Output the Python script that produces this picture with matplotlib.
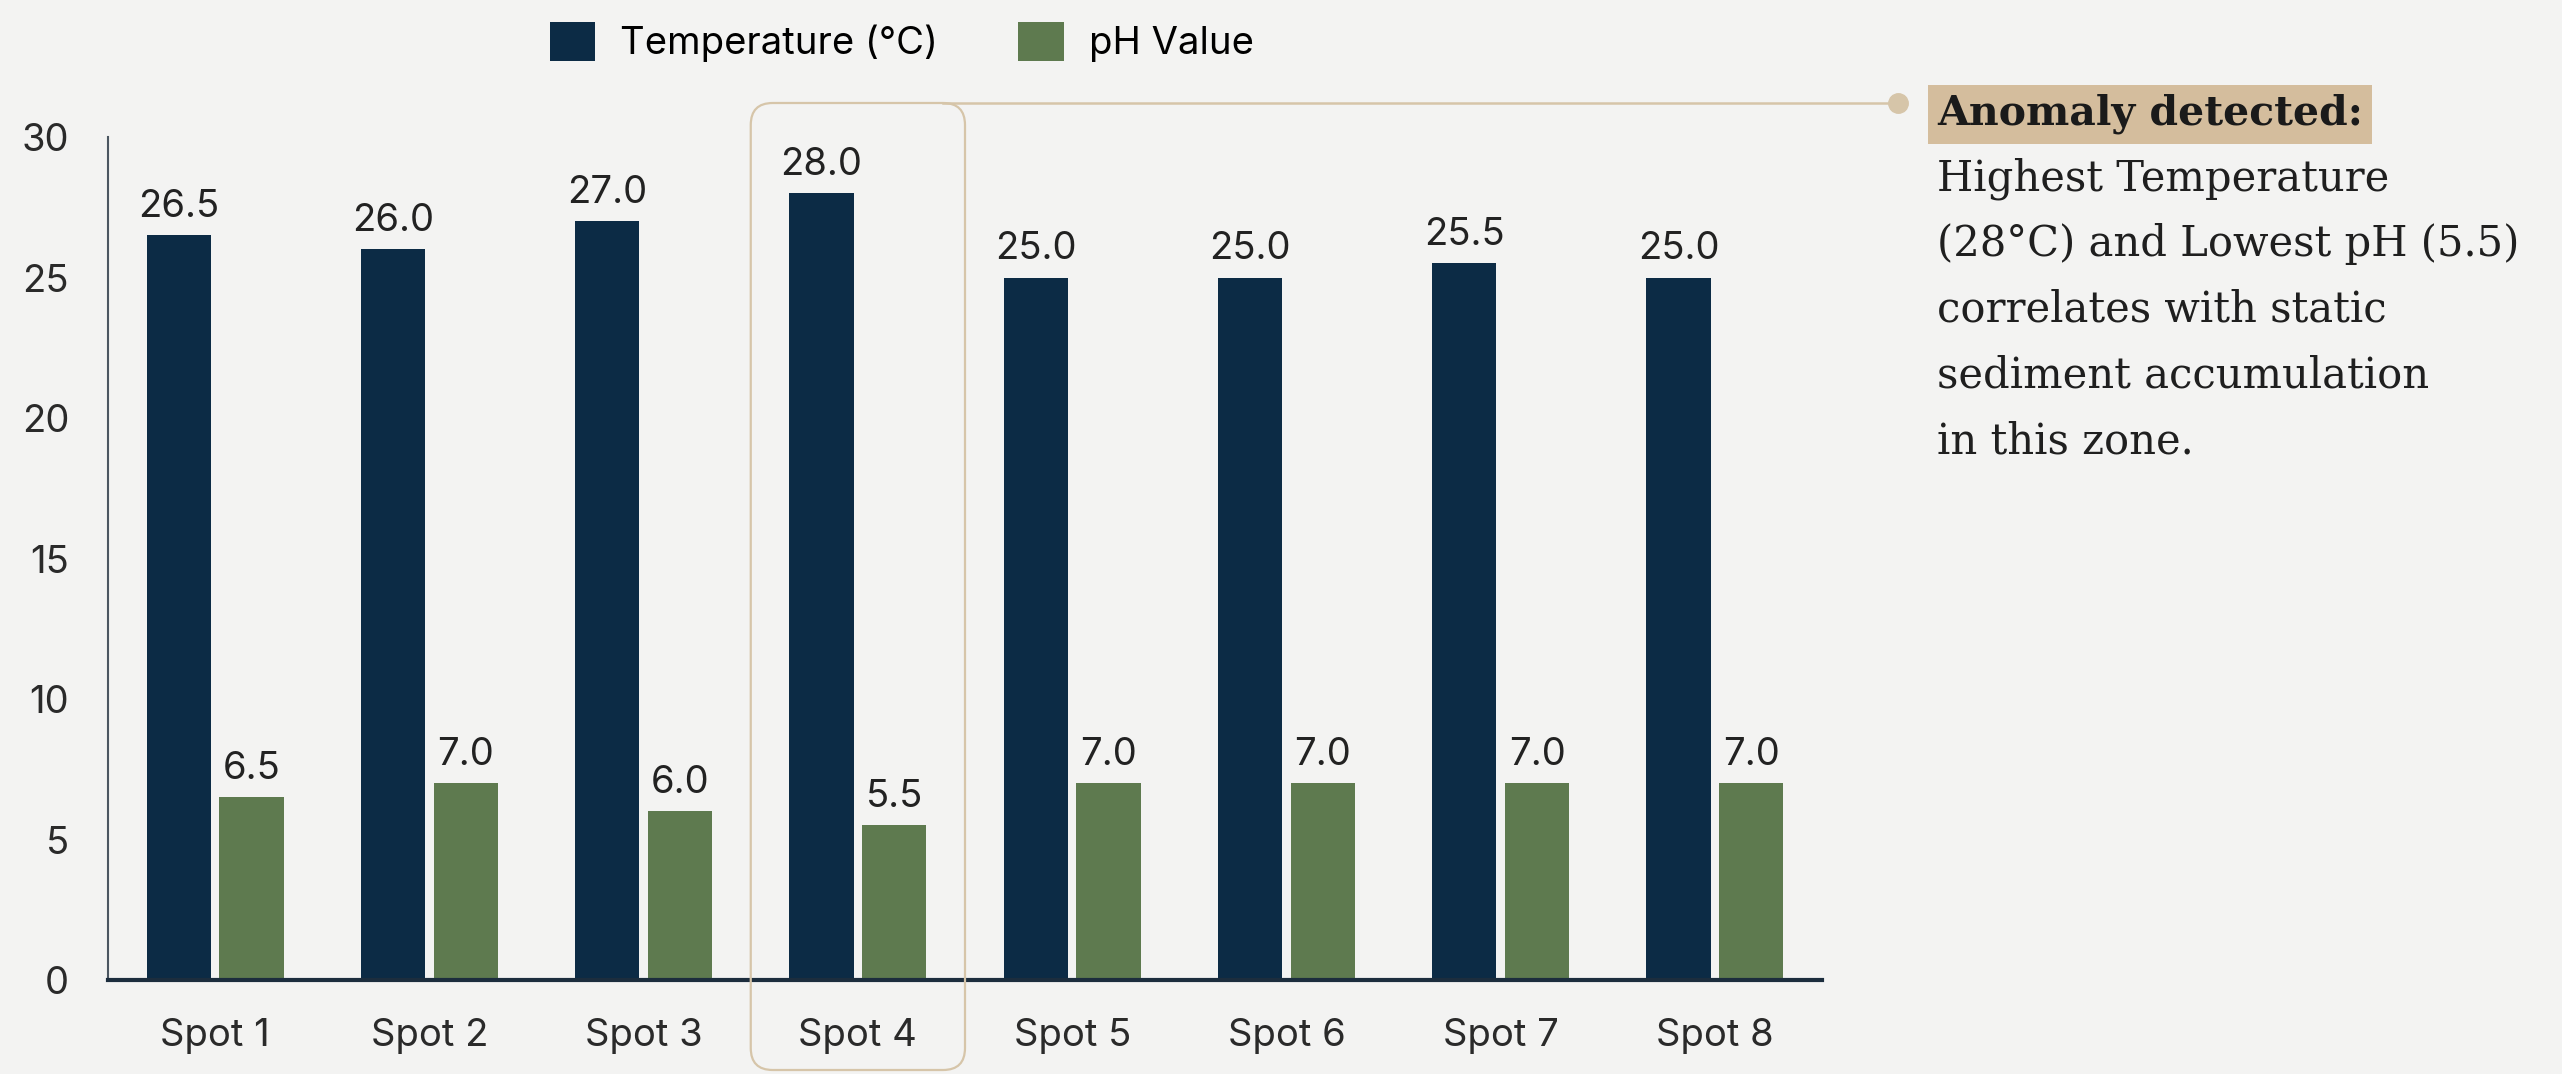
import matplotlib.pyplot as plt
import numpy as np
from matplotlib.patches import FancyBboxPatch
from matplotlib.lines import Line2D
from matplotlib.transforms import IdentityTransform

# data
spots = ['Spot 1', 'Spot 2', 'Spot 3', 'Spot 4', 'Spot 5', 'Spot 6', 'Spot 7', 'Spot 8']
temperature = [26.5, 26.0, 27.0, 28.0, 25.0, 25.0, 25.5, 25.0]
ph_value = [6.5, 7.0, 6.0, 5.5, 7.0, 7.0, 7.0, 7.0]
y_ticks = [0, 5, 10, 15, 20, 25, 30]
series_names = ['Temperature (°C)', 'pH Value']
note_title = 'Anomaly detected:'
note_lines = ['Highest Temperature', '(28°C) and Lowest pH (5.5)',
              'correlates with static', 'sediment accumulation', 'in this zone.']

BG = '#f3f3f2'
NAVY = '#0c2b45'
GREEN = '#5e7a4f'
TAN = '#d6c5a9'
TAN_FILL = '#d4bd9d'
TEXT = '#222222'

plt.rcParams['font.family'] = ['Inter', 'DejaVu Sans']

W, H = 2562, 1074
fig = plt.figure(figsize=(W / 100, H / 100), dpi=100, facecolor=BG)
ax = fig.add_axes([108 / W, 94 / H, (1822 - 108) / W, (937 - 94) / H])
ax.set_facecolor(BG)

x = np.arange(len(spots))
bw, off = 0.30, 0.17
ax.bar(x - off, temperature, bw, color=NAVY, label=series_names[0], zorder=2)
ax.bar(x + off, ph_value, bw, color=GREEN, label=series_names[1], zorder=2)

# value labels above bars
for xi, t, p in zip(x, temperature, ph_value):
    ax.annotate(f'{t:.1f}', (xi - off, t), xytext=(0, 13), textcoords='offset points',
                ha='center', va='baseline', fontsize=27.5, color=TEXT)
    ax.annotate(f'{p:.1f}', (xi + off, p), xytext=(0, 13), textcoords='offset points',
                ha='center', va='baseline', fontsize=27.5, color=TEXT)

ax.set_xlim(-0.5, len(spots) - 0.5)
ax.set_ylim(0, 30)
ax.set_yticks(y_ticks)
ax.set_xticks(x)
ax.set_xticklabels(spots)
ax.tick_params(axis='both', length=0, labelsize=27.5, labelcolor='#2a2a2a')
ax.tick_params(axis='y', pad=28)
ax.tick_params(axis='x', pad=27)
for s in ['top', 'right']:
    ax.spines[s].set_visible(False)
ax.spines['left'].set_color('#4b5661')
ax.spines['left'].set_linewidth(1.5)
ax.spines['bottom'].set_color('#1c2d3d')
ax.spines['bottom'].set_linewidth(3)

fig.legend(loc='center', bbox_to_anchor=(0.352, 0.961), ncol=2, frameon=False,
           fontsize=27.5, handlelength=1.2, handleheight=1.2, handletextpad=0.65,
           columnspacing=2.1, borderpad=0)

# highlight box around the anomaly spot
hi = int(np.argmax(temperature))
bx0 = ax.transData.transform((hi - 0.5, 0))[0]
bx1 = ax.transData.transform((hi + 0.5, 0))[0]
top_px, bot_px = H - 103, H - 1070
box = FancyBboxPatch((bx0, bot_px), bx1 - bx0, top_px - bot_px,
                     boxstyle='round,pad=0,rounding_size=22', transform=IdentityTransform(),
                     fill=False, ec=TAN, lw=1.6, zorder=5)
fig.add_artist(box)

dot_x = 1898
fig.add_artist(Line2D([bx1 - 22, dot_x], [top_px, top_px], transform=IdentityTransform(),
                      color=TAN, lw=1.8, zorder=5))
fig.add_artist(Line2D([dot_x], [top_px], transform=IdentityTransform(), marker='o',
                      ms=14, color=TAN, zorder=6))

# annotation text
tx = 1937 / W
fig.text(tx, 1 - 125 / H, note_title, family='DejaVu Serif', fontweight='bold',
         fontsize=29.5, color='#1a1a1a', va='baseline',
         bbox=dict(boxstyle='square,pad=0.22', fc=TAN_FILL, ec='none'))
for i, line in enumerate(note_lines):
    fig.text(tx, 1 - (190.6 + 65.6 * i) / H, line, family='DejaVu Serif',
             fontsize=30, color='#1f1f1f', va='baseline')

fig.savefig('out.png', dpi=100, facecolor=BG)
